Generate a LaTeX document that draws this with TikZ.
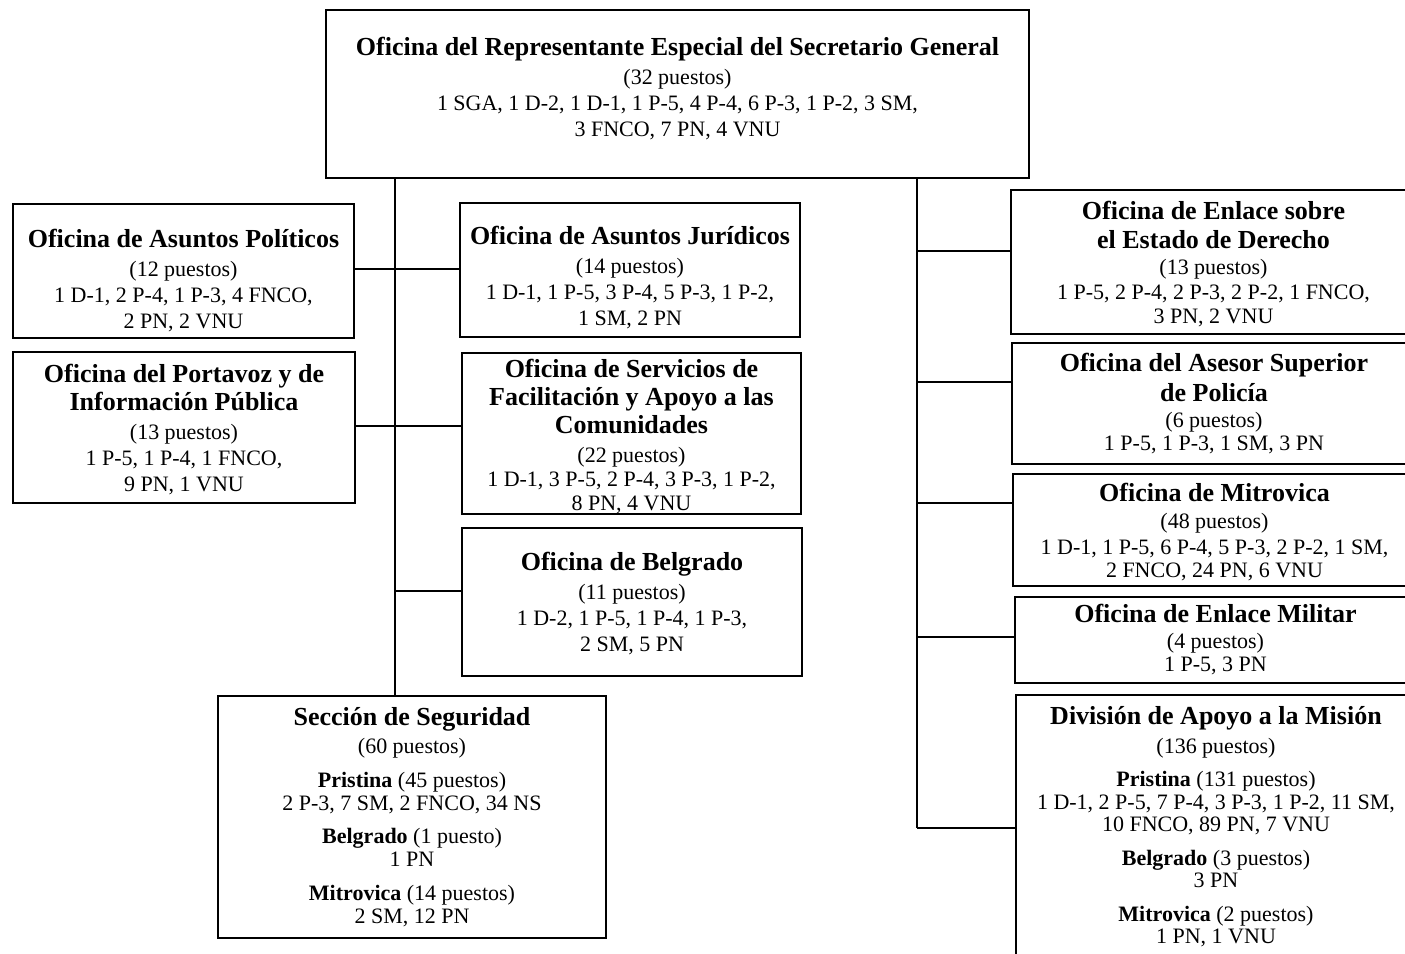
\documentclass[tikz,border=0pt]{standalone}
\usepackage{fontspec}
\setmainfont{Liberation Serif}
\newcommand{\ttl}[1]{{\fontsize{26}{26}\selectfont\bfseries #1}}
\newcommand{\bodyfont}{\fontsize{22}{26}\selectfont}
\newcommand{\dep}[1]{\rule[-#1]{0pt}{#1}}
\newcommand{\pdn}[1]{\rule{0pt}{\dimexpr 19pt+#1*2\relax}}
\tikzset{
  orgbox/.style={draw, line width=1.5pt, align=center, inner sep=0pt, font=\bodyfont},
  link/.style={line width=1.5pt}
}
\begin{document}
\begin{tikzpicture}[x=1pt,y=-1pt]
\useasboundingbox (0,0) rectangle (1405,953);
\clip (0,0) rectangle (1405,953);

\node[orgbox, minimum width=703pt, minimum height=168pt] (top) at (677.5,94)
 {\ttl{Oficina del Representante Especial del Secretario General}\\[3pt]
  (32 puestos)\\
  1 SGA, 1 D-2, 1 D-1, 1 P-5, 4 P-4, 6 P-3, 1 P-2, 3 SM,\\
  3 FNCO, 7 PN, 4 VNU\dep{14pt}};

\node[orgbox, minimum width=341pt, minimum height=134pt] (A1) at (183.5,271)
 {\pdn{9pt}\ttl{Oficina de Asuntos Políticos}\\[3pt]
  (12 puestos)\\
  1 D-1, 2 P-4, 1 P-3, 4 FNCO,\\
  2 PN, 2 VNU};

\node[orgbox, minimum width=342pt, minimum height=151pt] (A2) at (184,427.5)
 {\pdn{1.5pt}\ttl{Oficina del Portavoz y de}\\[2pt]
  \ttl{Información Pública}\\[3pt]
  (13 puestos)\\
  1 P-5, 1 P-4, 1 FNCO,\\
  9 PN, 1 VNU};

\node[orgbox, minimum width=340pt, minimum height=134pt] (B1) at (630,270)
 {\pdn{7pt}\ttl{Oficina de Asuntos Jurídicos}\\[3pt]
  (14 puestos)\\
  1 D-1, 1 P-5, 3 P-4, 5 P-3, 1 P-2,\\
  1 SM, 2 PN};

\node[orgbox, minimum width=339pt, minimum height=161pt] (B2) at (631.5,433.5)
 {\pdn{3pt}\ttl{Oficina de Servicios de}\\[2pt]
  \ttl{Facilitación y Apoyo a las}\\[2pt]
  \ttl{Comunidades}\\[3pt]
  (22 puestos)\\[-2pt]
  1 D-1, 3 P-5, 2 P-4, 3 P-3, 1 P-2,\\[-2pt]
  8 PN, 4 VNU};

\node[orgbox, minimum width=340pt, minimum height=148pt] (B3) at (632,602)
 {\pdn{1.5pt}\ttl{Oficina de Belgrado}\\[3pt]
  (11 puestos)\\
  1 D-2, 1 P-5, 1 P-4, 1 P-3,\\
  2 SM, 5 PN};

\node[orgbox, minimum width=388pt, minimum height=242pt] (S) at (412,817)
 {\ttl{Sección de Seguridad}\\[2pt]
  (60 puestos)\\[8pt]
  \textbf{Pristina} (45 puestos)\\[-3pt]
  2 P-3, 7 SM, 2 FNCO, 34 NS\\[7pt]
  \textbf{Belgrado} (1 puesto)\\[-3pt]
  1 PN\\[8pt]
  \textbf{Mitrovica} (14 puestos)\\[-3pt]
  2 SM, 12 PN};

\node[orgbox, minimum width=405pt, minimum height=144pt] (R1) at (1213.5,262)
 {\pdn{2pt}\ttl{Oficina de Enlace sobre}\\[3pt]
  \ttl{el Estado de Derecho}\\
  (13 puestos)\\[-1pt]
  1 P-5, 2 P-4, 2 P-3, 2 P-2, 1 FNCO,\\[-2pt]
  3 PN, 2 VNU};

\node[orgbox, minimum width=404pt, minimum height=121pt] (R2) at (1214,403.5)
 {\ttl{Oficina del Asesor Superior}\\[4pt]
  \ttl{de Policía}\\
  (6 puestos)\\[-3pt]
  1 P-5, 1 P-3, 1 SM, 3 PN};

\node[orgbox, minimum width=403pt, minimum height=112pt] (R3) at (1214.5,530)
 {\pdn{1.5pt}\ttl{Oficina de Mitrovica}\\[1pt]
  (48 puestos)\\
  1 D-1, 1 P-5, 6 P-4, 5 P-3, 2 P-2, 1 SM,\\[-3pt]
  2 FNCO, 24 PN, 6 VNU};

\node[orgbox, minimum width=401pt, minimum height=86pt] (R4) at (1215.5,640)
 {\ttl{Oficina de Enlace Militar}\\
  (4 puestos)\\[-3pt]
  1 P-5, 3 PN};

\node[orgbox, minimum width=400pt, minimum height=266pt] (R5) at (1216,828)
 {\ttl{División de Apoyo a la Misión}\\[3pt]
  (136 puestos)\\[7pt]
  \textbf{Pristina} (131 puestos)\\[-3pt]
  1 D-1, 2 P-5, 7 P-4, 3 P-3, 1 P-2, 11 SM,\\[-4pt]
  10 FNCO, 89 PN, 7 VNU\\[8pt]
  \textbf{Belgrado} (3 puestos)\\[-4pt]
  3 PN\\[8pt]
  \textbf{Mitrovica} (2 puestos)\\[-4pt]
  1 PN, 1 VNU\dep{7pt}};

% trunks
\coordinate (L) at (395,300);
\coordinate (R) at (917,300);
\draw[link] (top.south -| L) -- (S.north -| L);
\draw[link] (top.south -| R) -- (R5.west -| R);

% left branches
\coordinate (ja) at (395,269);
\coordinate (jb) at (395,426);
\coordinate (jc) at (395,591);
\draw[link] (ja -| A1.east) -- (ja -| B1.west);
\draw[link] (jb -| A2.east) -- (jb -| B2.west);
\draw[link] (jc) -- (jc -| B3.west);

% right branches
\coordinate (r1) at (917,251);
\coordinate (r2) at (917,382);
\coordinate (r3) at (917,503);
\coordinate (r4) at (917,637);
\draw[link] (r1) -- (r1 -| R1.west);
\draw[link] (r2) -- (r2 -| R2.west);
\draw[link] (r3) -- (r3 -| R3.west);
\draw[link] (r4) -- (r4 -| R4.west);
\draw[link] (R5.west -| R) -- (R5.west);
\end{tikzpicture}
\end{document}
